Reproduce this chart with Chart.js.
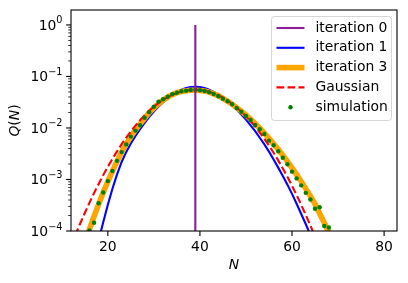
<!DOCTYPE html>
<html lang="en">
<head>
    <meta charset="UTF-8">
    <title>Q(N) iterations</title>
    <script src="https://cdn.jsdelivr.net/npm/chart.js"></script>
    <style>
        html, body { margin: 0; padding: 0; background: #fff; }
        #wrap { width: 408px; height: 283px; }
    </style>
</head>
<body>
    <div id="wrap"><canvas id="chart" width="408" height="283"></canvas></div>

    <script>
// values
const iter0N = [39, 39];
const iter0Q = [1e-6, 1];

const iter1N = [17, 18, 19, 20, 21, 22, 23, 24, 25, 26, 27, 28, 29, 30, 31, 32, 33, 34, 35, 36, 37, 38, 39, 40,
    41, 42, 43, 44, 45, 46, 47, 48, 49, 50, 51, 52, 53, 54, 55, 56, 57, 58, 59, 60, 61, 62, 63, 64, 65];
const iter1Q = [2.82e-5, 6.61e-5, 1.48e-4, 3.24e-4, 6.61e-4, 1.26e-3, 2.19e-3, 3.43e-3, 5.01e-3, 7.00e-3,
    9.44e-3, 0.0126, 0.0164, 0.0209, 0.0260, 0.0316, 0.0372, 0.0433, 0.0497, 0.0552, 0.0594, 0.0621, 0.0630,
    0.0621, 0.0594, 0.0552, 0.0499, 0.0443, 0.0383, 0.0327, 0.0275, 0.0229, 0.0182, 0.0145, 0.0112, 8.71e-3,
    6.46e-3, 4.79e-3, 3.47e-3, 2.45e-3, 1.70e-3, 1.17e-3, 7.94e-4, 5.25e-4, 3.39e-4, 2.14e-4, 1.35e-4,
    8.32e-5, 5.0e-5];

const iter3N = [14, 15, 16, 17, 18, 19, 20, 21, 22, 23, 24, 25, 26, 27, 28, 29, 30, 31, 32, 33, 34, 35, 36, 37,
    38, 39, 40, 41, 42, 43, 44, 45, 46, 47, 48, 49, 50, 51, 52, 53, 54, 55, 56, 57, 58, 59, 60, 61, 62, 63, 64,
    65, 66, 67, 68, 69, 70];
const iter3Q = [3.2e-5, 5.9e-5, 1.07e-4, 1.91e-4, 3.31e-4, 5.62e-4, 9.12e-4, 1.45e-3, 2.24e-3, 3.39e-3, 4.90e-3,
    6.76e-3, 9.12e-3, 0.0120, 0.0155, 0.0200, 0.0245, 0.0295, 0.0347, 0.0398, 0.0445, 0.0485, 0.0512, 0.0529,
    0.0538, 0.0540, 0.0535, 0.0520, 0.0497, 0.0460, 0.0421, 0.0376, 0.0331, 0.0288, 0.0248, 0.0211, 0.0178,
    0.0148, 0.0122, 9.89e-3, 7.94e-3, 6.31e-3, 4.95e-3, 3.85e-3, 2.95e-3, 2.24e-3, 1.68e-3, 1.24e-3, 9.12e-4,
    6.61e-4, 4.73e-4, 3.35e-4, 2.19e-4, 1.45e-4, 9.55e-5, 6.3e-5, 4.1e-5];

const gaussN = [12, 13, 14, 15, 16, 17, 18, 19, 20, 21, 22, 23, 24, 25, 26, 27, 28, 29, 30, 31, 32, 33, 34, 35,
    36, 37, 38, 39, 40, 41, 42, 43, 44, 45, 46, 47, 48, 49, 50, 51, 52, 53, 54, 55, 56, 57, 58, 59, 60, 61, 62,
    63, 64, 65, 66];
const gaussQ = [5.16e-5, 8.58e-5, 1.40e-4, 2.24e-4, 3.52e-4, 5.43e-4, 8.20e-4, 1.215e-3, 1.767e-3, 2.52e-3,
    3.52e-3, 4.84e-3, 6.51e-3, 8.59e-3, 0.01113, 0.01413, 0.01761, 0.02153, 0.02581, 0.03034, 0.0350, 0.0396,
    0.04395, 0.04784, 0.05108, 0.05351, 0.05497, 0.0554, 0.05476, 0.0531, 0.0505, 0.0471, 0.0431, 0.0387,
    0.03407, 0.02942, 0.02492, 0.02071, 0.01688, 0.0135, 0.01059, 8.14e-3, 6.14e-3, 4.55e-3, 3.30e-3, 2.35e-3,
    1.642e-3, 1.125e-3, 7.56e-4, 4.98e-4, 3.22e-4, 2.04e-4, 1.27e-4, 7.76e-5, 4.65e-5];

const simN = [16, 17, 18, 19, 20, 21, 22, 23, 24, 25, 26, 27, 28, 29, 30, 31, 32, 33, 34, 35, 36, 37, 38, 39, 40,
    41, 42, 43, 44, 45, 46, 47, 48, 49, 50, 51, 52, 53, 54, 55, 56, 57, 58, 59, 60, 61, 62, 63, 64, 65, 66, 67, 68];
const simQ = [1.02e-4, 1.45e-4, 3.45e-4, 5.6e-4, 9.3e-4, 1.46e-3, 2.3e-3, 3.4e-3, 4.8e-3, 6.8e-3, 8.9e-3, 0.0113,
    0.0158, 0.0203, 0.0259, 0.0324, 0.036, 0.0405, 0.0451, 0.0484, 0.0516, 0.053, 0.0547, 0.0547, 0.054, 0.0523,
    0.0493, 0.0457, 0.0413, 0.037, 0.033, 0.0288, 0.0241, 0.0207, 0.0171, 0.0143, 0.0114, 9.44e-3, 7.64e-3,
    5.67e-3, 4.61e-3, 3.53e-3, 2.65e-3, 1.97e-3, 1.42e-3, 1.05e-3, 7.7e-4, 5.5e-4, 4.1e-4, 2.7e-4, 2.9e-4,
    1.25e-4, 1.17e-4];

const xTicks = [20, 40, 60, 80];
const yTicks = [1e-4, 1e-3, 1e-2, 1e-1, 1];
const yTickExp = ['\u22124', '\u22123', '\u22122', '\u22121', '0'];

const FONT = '"DejaVu Sans", sans-serif';
const FS = 13.9;

function pts(xs, ys) {
    return xs.map((x, i) => ({ x: x, y: ys[i] }));
}

// matplotlib-like frame, ticks, labels and legend
const mplAxes = {
    id: 'mplAxes',
    afterDraw(chart) {
        const ctx = chart.ctx;
        const a = chart.chartArea;
        const xs = chart.scales.x, ys = chart.scales.y;
        ctx.save();

        // spines
        ctx.strokeStyle = '#000';
        ctx.lineWidth = 1.1;
        ctx.strokeRect(a.left, a.top, a.right - a.left, a.bottom - a.top);

        // x ticks
        ctx.fillStyle = '#000';
        ctx.font = FS + 'px ' + FONT;
        ctx.textAlign = 'center';
        ctx.textBaseline = 'top';
        xTicks.forEach(v => {
            const px = xs.getPixelForValue(v);
            ctx.beginPath();
            ctx.moveTo(px, a.bottom);
            ctx.lineTo(px, a.bottom + 4.9);
            ctx.stroke();
            ctx.fillText(String(v), px, a.bottom + 9.6);
        });

        // y minor ticks
        ctx.lineWidth = 0.8;
        for (let e = -4; e <= 0; e++) {
            for (let k = 2; k <= 9; k++) {
                const v = k * Math.pow(10, e);
                if (v > ys.max) continue;
                const py = ys.getPixelForValue(v);
                ctx.beginPath();
                ctx.moveTo(a.left, py);
                ctx.lineTo(a.left - 2.8, py);
                ctx.stroke();
            }
        }
        // y major ticks + mathtext-like labels
        ctx.lineWidth = 1.1;
        yTicks.forEach((v, i) => {
            const py = ys.getPixelForValue(v);
            ctx.beginPath();
            ctx.moveTo(a.left, py);
            ctx.lineTo(a.left - 4.9, py);
            ctx.stroke();
            ctx.font = (FS * 0.7) + 'px ' + FONT;
            const ew = ctx.measureText(yTickExp[i]).width;
            ctx.font = FS + 'px ' + FONT;
            const bw = ctx.measureText('10').width;
            const right = a.left - 8.5;
            ctx.textAlign = 'left';
            ctx.textBaseline = 'alphabetic';
            ctx.fillText('10', right - ew - bw, py + 5);
            ctx.font = (FS * 0.7) + 'px ' + FONT;
            ctx.fillText(yTickExp[i], right - ew, py - 1.5);
        });

        // axis labels
        ctx.font = 'italic ' + FS + 'px ' + FONT;
        ctx.textAlign = 'center';
        ctx.textBaseline = 'middle';
        ctx.fillText('N', (a.left + a.right) / 2, 265);

        ctx.save();
        ctx.translate(15.5, (a.top + a.bottom) / 2);
        ctx.rotate(-Math.PI / 2);
        ctx.textAlign = 'left';
        const parts = [['italic ', 'Q'], ['', '('], ['italic ', 'N'], ['', ')']];
        let total = 0;
        parts.forEach(p => { ctx.font = p[0] + FS + 'px ' + FONT; total += ctx.measureText(p[1]).width; });
        let cx = -total / 2;
        parts.forEach(p => {
            ctx.font = p[0] + FS + 'px ' + FONT;
            ctx.fillText(p[1], cx, 0);
            cx += ctx.measureText(p[1]).width;
        });
        ctx.restore();

        // legend
        const lx = 271, ly = 16, lw = 120, lh = 104;
        ctx.beginPath();
        ctx.roundRect(lx + 0.5, ly + 0.5, lw, lh, 3);
        ctx.fillStyle = 'rgba(255,255,255,0.8)';
        ctx.fill();
        ctx.strokeStyle = 'rgba(204,204,204,0.8)';
        ctx.lineWidth = 1;
        ctx.stroke();

        const legendSets = ['iteration 0', 'iteration 1', 'iteration 3', 'Gaussian', 'simulation'];
        legendSets.forEach((name, i) => {
            const ds = chart.data.datasets.find(d => d.label === name);
            const y = 28 + i * 19.8;
            const h0 = 276.5, h1 = 304.5;
            if (ds.showLine === false) {
                ctx.beginPath();
                ctx.arc((h0 + h1) / 2, y, ds.pointRadius, 0, Math.PI * 2);
                ctx.fillStyle = ds.pointBackgroundColor;
                ctx.fill();
            } else {
                ctx.beginPath();
                ctx.setLineDash(ds.borderDash || []);
                ctx.strokeStyle = ds.borderColor;
                ctx.lineWidth = ds.borderWidth;
                ctx.moveTo(h0, y);
                ctx.lineTo(h1, y);
                ctx.stroke();
                ctx.setLineDash([]);
            }
            ctx.fillStyle = '#000';
            ctx.font = FS + 'px ' + FONT;
            ctx.textAlign = 'left';
            ctx.textBaseline = 'middle';
            ctx.fillText(name, 315.5, y);
        });
        ctx.restore();
    }
};

new Chart(document.getElementById('chart'), {
    type: 'line',
    data: {
        datasets: [
            { label: 'iteration 0', data: pts(iter0N, iter0Q), borderColor: '#8a1f98', borderWidth: 2.1,
              pointRadius: 0, order: 0, clip: 0 },
            { label: 'simulation', data: pts(simN, simQ), showLine: false, pointRadius: 2.2,
              pointBackgroundColor: '#008000', pointBorderWidth: 0, borderColor: '#008000', order: 1, clip: 0 },
            { label: 'Gaussian', data: pts(gaussN, gaussQ), borderColor: '#ff0000', borderWidth: 2.1,
              borderDash: [7.7, 3.3], pointRadius: 0, order: 2, clip: 0 },
            { label: 'iteration 3', data: pts(iter3N, iter3Q), borderColor: '#ffa500', borderWidth: 5.6,
              pointRadius: 0, order: 3, clip: 0 },
            { label: 'iteration 1', data: pts(iter1N, iter1Q), borderColor: '#0000ff', borderWidth: 2.1,
              pointRadius: 0, order: 4, clip: 0 }
        ]
    },
    options: {
        responsive: false,
        animation: false,
        devicePixelRatio: 1,
        layout: { padding: { top: 10, right: 11, left: 0, bottom: 0 } },
        elements: { line: { tension: 0, fill: false } },
        plugins: { legend: { display: false }, tooltip: { enabled: false } },
        scales: {
            x: {
                type: 'linear', min: 12, max: 82.8,
                grid: { display: false }, border: { display: false },
                ticks: { display: false },
                afterFit(s) { s.height = 52; }
            },
            y: {
                type: 'logarithmic', min: 1e-4, max: 1.95,
                grid: { display: false }, border: { display: false },
                ticks: { display: false },
                afterFit(s) { s.width = 71; }
            }
        }
    },
    plugins: [mplAxes]
});
    </script>
</body>
</html>
